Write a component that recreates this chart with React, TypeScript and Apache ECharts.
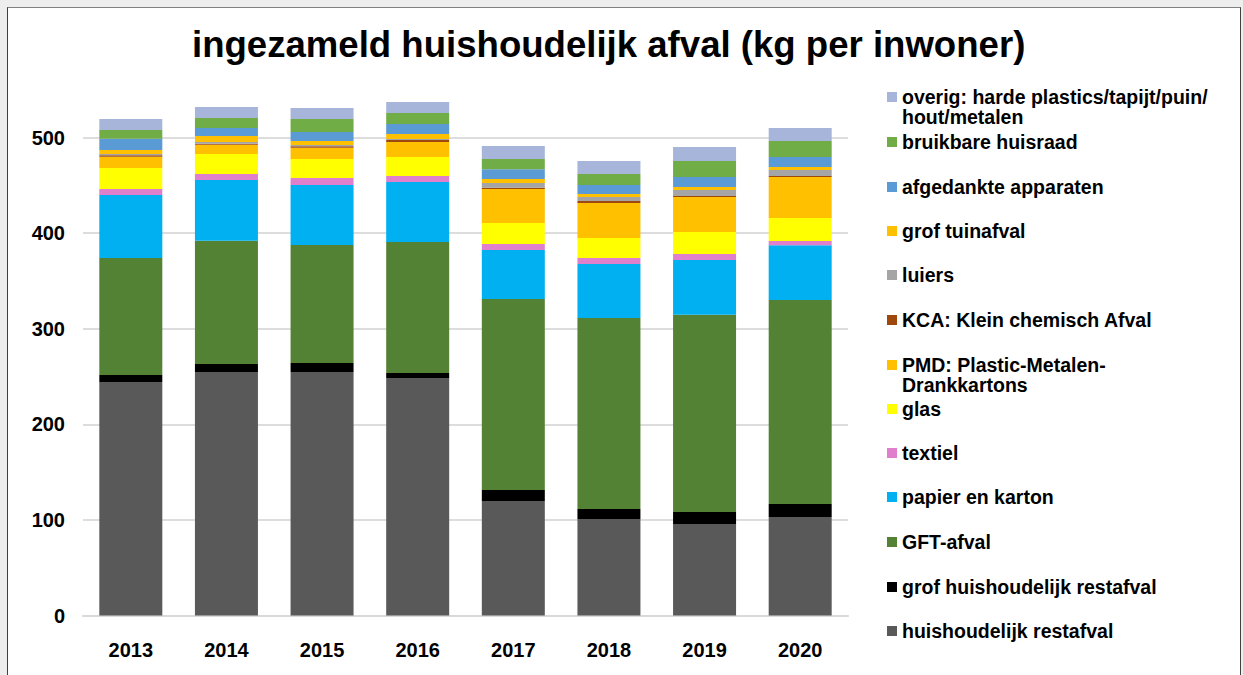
import React, { useEffect, useRef } from "react";
import * as echarts from "echarts";

const years = ["2013", "2014", "2015", "2016", "2017", "2018", "2019", "2020"];

const restafval = [244.2, 254.7, 254.7, 248.4, 119.8, 100.9, 95.7, 103.0];
const grofRestafval = [7.4, 8.4, 9.4, 5.2, 11.5, 10.5, 12.6, 13.6];
const gft = [122.4, 129.0, 123.5, 137.0, 199.8, 199.8, 206.2, 213.4];
const papier = [65.9, 63.4, 62.7, 62.8, 51.2, 56.5, 57.4, 57.4];
const textiel = [6.3, 6.3, 7.3, 6.3, 6.3, 6.3, 6.3, 4.3];
const glas = [21.9, 20.9, 19.9, 19.9, 22.0, 20.9, 23.0, 24.1];
const pmd = [11.8, 9.8, 11.8, 15.7, 35.5, 36.6, 36.6, 42.9];
const kca = [1.5, 1.0, 1.5, 2.1, 1.4, 2.1, 1.0, 1.1];
const luiers = [1.3, 1.8, 1.4, 1.0, 4.9, 4.2, 6.3, 6.3];
const grofTuinafval = [4.2, 6.3, 4.1, 5.2, 4.2, 3.1, 3.1, 3.1];
const apparaten = [11.8, 8.4, 9.5, 10.5, 10.2, 9.4, 10.5, 10.4];
const huisraad = [9.1, 10.4, 13.6, 11.5, 10.7, 11.5, 16.8, 16.7];
const overig = [11.5, 11.5, 11.5, 11.5, 13.6, 13.6, 14.6, 13.6];

const yTicks = [0, 100, 200, 300, 400, 500];

// bottom to top stacking order
const seriesNames = [
  "huishoudelijk restafval",
  "grof huishoudelijk restafval",
  "GFT-afval",
  "papier en karton",
  "textiel",
  "glas",
  "PMD: Plastic-Metalen-Drankkartons",
  "KCA: Klein chemisch Afval",
  "luiers",
  "grof tuinafval",
  "afgedankte apparaten",
  "bruikbare huisraad",
  "overig: harde plastics/tapijt/puin/hout/metalen",
];
const seriesData = [
  restafval, grofRestafval, gft, papier, textiel, glas, pmd, kca, luiers,
  grofTuinafval, apparaten, huisraad, overig,
];
const seriesColors = [
  "#595959", "#000000", "#548235", "#00B0F0", "#E07FCC", "#FFFF00", "#FFC000",
  "#9E480E", "#A5A5A5", "#FFC000", "#5B9BD5", "#70AD47", "#A8B5DA",
];
const legendLabels: Record<string, string> = {
  "PMD: Plastic-Metalen-Drankkartons": "PMD: Plastic-Metalen-\nDrankkartons",
  "overig: harde plastics/tapijt/puin/hout/metalen": "overig: harde plastics/tapijt/puin/\nhout/metalen",
};
// legend rows, top to bottom (icon centre y)
const legendOrder = [...seriesNames].reverse();
const legendY = [97, 142, 187, 231, 275, 320, 365, 409, 453, 497, 542, 587, 631];

const FONT = "'Liberation Sans', Arial, Helvetica, sans-serif";
const LINE_H = 20;

export default function App() {
  const ref = useRef<HTMLDivElement>(null);
  useEffect(() => {
    if (!ref.current) return;
    const chart = echarts.init(ref.current, null, { renderer: "svg" });
    const legends = legendOrder.map((name, i) => {
      const twoLine = !!legendLabels[name];
      return {
        show: true,
        data: [name],
        left: 887,
        top: legendY[i] - 10,
        padding: 0,
        itemWidth: 10,
        itemHeight: twoLine ? 10 + LINE_H : 10,
        // square at the top of a taller icon box so it lines up with the first text line
        icon: twoLine ? "path://M0,0L10,0L10,10L0,10ZM0,30L10,30Z" : "rect",
        formatter: (n: string) => legendLabels[n] || n,
        textStyle: {
          fontFamily: FONT,
          fontWeight: "bold",
          fontSize: 19.5,
          color: "#000",
          lineHeight: LINE_H,
        },
      };
    });
    chart.setOption({
      animation: false,
      backgroundColor: "transparent",
      title: {
        text: "ingezameld huishoudelijk afval (kg per inwoner)",
        left: 187,
        top: 21,
        textStyle: { fontFamily: FONT, fontWeight: "bold", fontSize: 36.6, color: "#000" },
      },
      legend: legends,
      grid: { left: 83, right: 395, top: 99.3, bottom: 59.5, containLabel: false },
      xAxis: {
        type: "category",
        data: years,
        axisTick: { show: false },
        axisLine: { lineStyle: { color: "#D9D9D9", width: 2 } },
        axisLabel: { fontFamily: FONT, fontWeight: "bold", fontSize: 20, color: "#000", margin: 24 },
      },
      yAxis: {
        type: "value",
        min: 0,
        max: 540,
        interval: 100,
        axisLine: { show: false },
        axisTick: { show: false },
        splitLine: { show: true, showMaxLine: false, lineStyle: { color: "#DDDDDD", width: 2 } },
        axisLabel: {
          fontFamily: FONT,
          fontWeight: "bold",
          fontSize: 20,
          color: "#000",
          margin: 18,
          showMaxLabel: false,
          formatter: (v: number) => (yTicks.includes(v) ? String(v) : ""),
        },
      },
      series: seriesNames.map((name, i) => ({
        name,
        type: "bar",
        stack: "total",
        barWidth: 63,
        data: seriesData[i],
        itemStyle: { color: seriesColors[i] },
      })),
    });
    return () => chart.dispose();
  }, []);

  return (
    <div style={{ position: "fixed", left: 0, top: 0, width: 1243, height: 675, background: "#EEEEEE", overflow: "hidden" }}>
      <div
        style={{
          position: "absolute",
          left: 7,
          top: 7,
          width: 1232,
          height: 720,
          background: "#FFFFFF",
          borderLeft: "1.5px solid #404040",
          borderRight: "1.5px solid #404040",
          borderTop: "1px solid #808080",
        }}
      />
      <div ref={ref} style={{ position: "absolute", left: 0, top: 0, width: 1243, height: 675 }} />
    </div>
  );
}
